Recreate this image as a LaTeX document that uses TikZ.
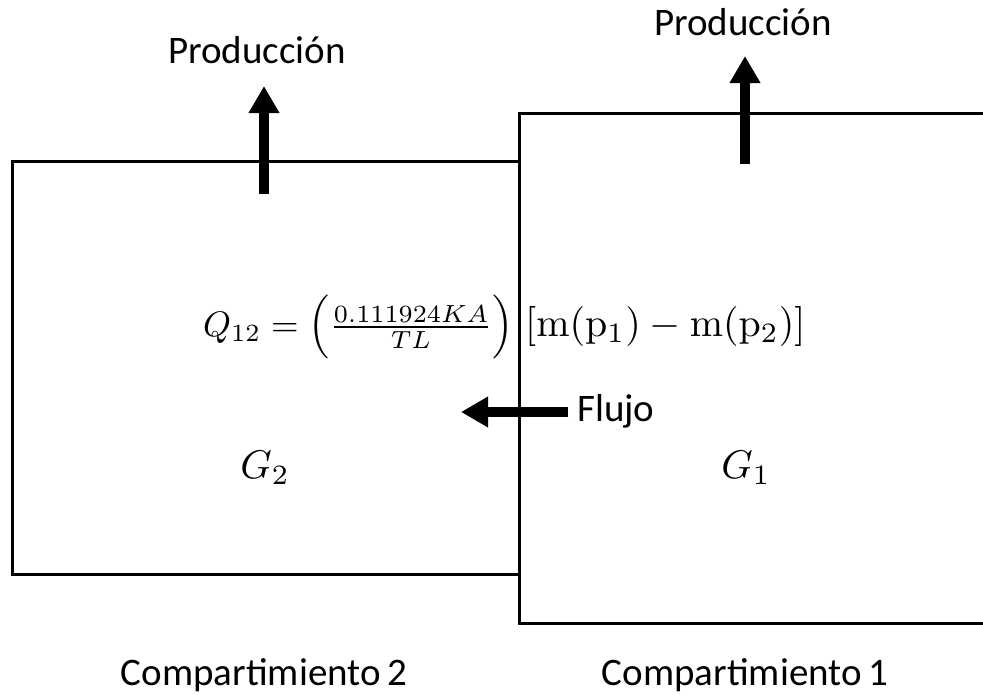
\documentclass[tikz,border=0pt]{standalone}
\usepackage[no-math]{fontspec}
\setmainfont{Carlito}
\usepackage{amsmath}
\usepackage{graphicx}
\usetikzlibrary{arrows.meta}
\newcommand{\bigmath}[1]{\scalebox{4}{\fontsize{10}{12}\selectfont$#1$}}
\newcommand{\fitmath}[2]{\resizebox{#1}{!}{\fontsize{10}{12}\selectfont$#2$}}
\tikzset{
  wall/.style={line width=3pt, line join=miter, line cap=butt},
  fatarrow/.style={line width=10pt, -{Triangle[length=27pt,width=29pt]}},
  lbl/.style={font=\fontsize{39}{46}\selectfont, inner sep=0pt, anchor=base},
  mth/.style={inner sep=0pt, anchor=base}
}
\begin{document}
\begin{tikzpicture}[x=1pt,y=-1pt]
\useasboundingbox (0,0) rectangle (983,694);
% boxes
\coordinate (l1) at (519,161);
\coordinate (l2) at (12,161);
\coordinate (l3) at (12,574);
\coordinate (l4) at (519,574);
\coordinate (r1) at (983,113);
\coordinate (r2) at (519,113);
\coordinate (r3) at (519,623);
\coordinate (r4) at (983,623);
\draw[wall] (l1) -- (l2) -- (l3) -- (l4);
\draw[wall] (r1) -- (r2) -- (r3) -- (r4);
% production arrows
\coordinate (pa1) at (264,194);
\coordinate (pb1) at (264,86);
\coordinate (pa2) at (745,164);
\coordinate (pb2) at (745,56);
\draw[fatarrow] (pa1) -- (pb1);
\draw[fatarrow] (pa2) -- (pb2);
\node[lbl] (prod2) at (257,63) {Producción};
\node[lbl] (prod1) at (743,35) {Producción};
% flow arrow
\coordinate (fa) at (568,412);
\coordinate (fb) at (461,412);
\draw[fatarrow] (fa) -- (fb);
\node[lbl, anchor=base west] (flujo) at (577,421) {Flujo};
% equation
\node[mth, anchor=base west] (eqL) at (203,336)
  {\fitmath{310pt}{Q_{12}=\Bigl(\frac{0.111924KA}{TL}\Bigr)}};
\node[mth, anchor=base west] (eqR) at (525,336)
  {\bigmath{[\mathrm{m}(\mathrm{p}_1)-\mathrm{m}(\mathrm{p}_2)]}};
% G labels
\node[mth] (g2) at (265,478) {\bigmath{G_2}};
\node[mth] (g1) at (746,478) {\bigmath{G_1}};
% compartment labels
\node[lbl] (c2) at (264,685) {Compartimiento\,2};
\node[lbl] (c1) at (745,685) {Compartimiento\,1};
\end{tikzpicture}
\end{document}
